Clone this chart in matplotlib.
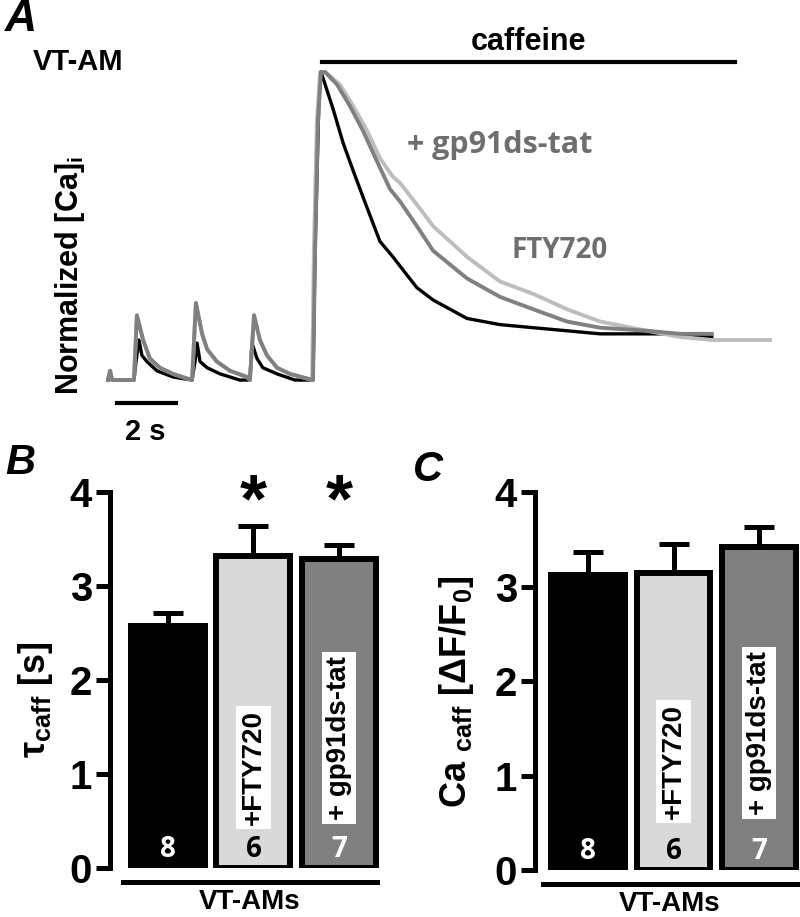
import numpy as np
import matplotlib
matplotlib.use('Agg')
import matplotlib.pyplot as plt

plt.rcParams['font.family'] = ['Liberation Sans', 'DejaVu Sans']
plt.rcParams['font.weight'] = 'bold'
plt.rcParams['mathtext.fontset'] = 'custom'
plt.rcParams['mathtext.rm'] = 'Liberation Sans:bold'
plt.rcParams['mathtext.it'] = 'Liberation Sans:bold'
plt.rcParams['mathtext.bf'] = 'Liberation Sans:bold'

# panel A: normalized Ca transients (time in s, normalized [Ca]i)
ctrl_t = [0, 0.07, 0.14, 0.88, 0.95, 1.05, 1.15, 1.32, 1.66, 2.20,
          2.85, 2.95, 3.02, 3.12, 3.36, 3.80, 4.47, 4.81, 4.88, 5.05,
          5.25, 5.73, 6.34, 6.95, 7.02, 7.15, 7.22, 7.36, 7.63, 7.97,
          8.31, 8.78, 9.22, 9.66, 9.90, 10.47, 11.02, 12.17, 13.29, 14.41,
          15.56, 16.68, 18.95, 20.47]
ctrl_v = [0, 0.03, 0, 0, 0.06, 0.13, 0.08, 0.06, 0.03, 0.01,
          0, 0.06, 0.12, 0.06, 0.04, 0.02, 0, 0, 0.12, 0.07,
          0.04, 0.02, 0, 0, 0.42, 0.91, 1.00, 0.96, 0.88, 0.77,
          0.68, 0.56, 0.45, 0.40, 0.37, 0.30, 0.26, 0.20, 0.18, 0.17,
          0.16, 0.15, 0.15, 0.14]

gp91_t = [0, 0.07, 0.14, 0.88, 0.98, 1.19, 1.42, 1.76, 2.20, 2.85,
          2.98, 3.19, 3.36, 3.69, 4.14, 4.71, 4.81, 4.95, 5.15, 5.39,
          5.73, 6.17, 6.95, 7.02, 7.12, 7.22, 7.36, 7.76, 8.20, 8.64,
          9.12, 9.56, 9.90, 10.47, 11.02, 12.17, 13.29, 14.41, 15.56, 16.68,
          18.27, 19.39, 20.47]
gp91_v = [0, 0.03, 0, 0, 0.21, 0.13, 0.07, 0.04, 0.02, 0,
          0.25, 0.15, 0.10, 0.06, 0.03, 0.01, 0, 0.21, 0.13, 0.08,
          0.04, 0.02, 0, 0.42, 0.84, 1.00, 1.00, 0.96, 0.89, 0.81,
          0.71, 0.62, 0.58, 0.50, 0.42, 0.33, 0.27, 0.23, 0.19, 0.17,
          0.16, 0.15, 0.15]

fty_t = [0, 0.07, 0.14, 0.88, 0.98, 1.19, 1.42, 1.76, 2.20, 2.85,
         2.98, 3.19, 3.36, 3.69, 4.14, 4.71, 4.81, 4.95, 5.15, 5.39,
         5.73, 6.17, 6.92, 6.98, 7.08, 7.19, 7.36, 7.86, 8.31, 8.78,
         9.22, 9.66, 9.90, 10.47, 11.02, 12.17, 13.29, 14.41, 15.56, 16.68,
         18.27, 19.39, 20.51, 21.66, 22.44]
fty_v = [0, 0.03, 0, 0, 0.21, 0.13, 0.07, 0.04, 0.02, 0,
         0.25, 0.15, 0.10, 0.06, 0.03, 0.01, 0, 0.21, 0.13, 0.08,
         0.04, 0.02, 0, 0.42, 0.84, 1.00, 1.00, 0.96, 0.89, 0.81,
         0.72, 0.66, 0.64, 0.57, 0.50, 0.40, 0.32, 0.28, 0.23, 0.19,
         0.16, 0.14, 0.13, 0.13, 0.13]

caffeine_on = (7.25, 21.25)
scale_bar = (0.3, 2.3)

# panels B and C
groups = ['VT-AM', '+FTY720', '+ gp91ds-tat']
n_cells = ['8', '6', '7']
tau_mean = [2.57, 3.32, 3.29]
tau_sem = [0.14, 0.32, 0.15]
tau_sig = [False, True, True]
amp_mean = [3.12, 3.14, 3.42]
amp_sem = [0.25, 0.31, 0.21]

bar_colors = ['black', '#d9d9d9', '#808080']
num_colors = ['white', 'black', 'white']

fig = plt.figure(figsize=(8, 9.17), dpi=100)

# ---- panel A ----
axA = fig.add_axes([0.125, 0.5093, 0.8625, 0.4689])
axA.set_xlim(-0.271, 23.12)
axA.set_ylim(-0.227, 1.169)
axA.axis('off')
axA.plot(ctrl_t, ctrl_v, color='black', lw=2.4, zorder=2)
axA.plot(fty_t, fty_v, color='#bdbdbd', lw=2.8, zorder=3)
axA.plot(gp91_t, gp91_v, color='#808080', lw=2.8, zorder=4)
axA.plot(caffeine_on, [1.032, 1.032], color='black', lw=3)
axA.text(np.mean(caffeine_on), 1.097, 'caffeine', ha='center', va='center', fontsize=22)
axA.plot(scale_bar, [-0.075, -0.075], color='black', lw=3)
axA.text(1.25, -0.169, '2 s', ha='center', va='center', fontsize=21)
axA.text(13.29, 0.763, '+ gp91ds-tat', ha='center', va='center', fontsize=22,
         color='#6e6e6e', family='Open Sans', fontweight='bold')
axA.text(15.32, 0.422, 'FTY720', ha='center', va='center', fontsize=20,
         color='#6e6e6e', family='Open Sans', fontweight='bold')
fig.text(0.041, 0.932, 'VT-AM', ha='left', va='center', fontsize=21)
fig.text(0.006, 0.979, 'A', ha='left', va='center', fontsize=32, style='italic')
fig.text(0.0875, 0.700, 'Normalized [Ca]$_i$', rotation=90, ha='center', va='center', fontsize=22)


def bar_panel(ax, means, sems, xlim, label_y, sig=None):
    x = np.arange(len(means))
    ax.errorbar(x, means, yerr=[np.zeros(len(sems)), sems], fmt='none', ecolor='black',
                elinewidth=3.6, capsize=11, capthick=3.6, zorder=1)
    ax.bar(x, means, width=0.865, color=bar_colors, edgecolor='black', linewidth=4.3, zorder=2)
    ax.set_xlim(*xlim)
    ax.set_ylim(0, 4)
    ax.set_yticks([0, 1, 2, 3, 4])
    ax.set_xticks([])
    for s in ['top', 'right', 'bottom']:
        ax.spines[s].set_visible(False)
    ax.spines['left'].set_linewidth(3.6)
    ax.tick_params(axis='y', length=10, width=3.6, labelsize=29, pad=3)
    for i in x:
        ax.text(i, 0.2, n_cells[i], ha='center', va='center', fontsize=20,
                color=num_colors[i], family='Open Sans', fontweight='bold', zorder=3)
    for i, yl in zip([1, 2], label_y):
        ax.text(i, yl, groups[i], rotation=90, ha='center', va='center', fontsize=20, zorder=3,
                bbox=dict(facecolor='white', edgecolor='none', pad=3))
    if sig is not None:
        for i in x:
            if sig[i]:
                ax.text(i, 3.88, '*', ha='center', va='center', fontsize=50, zorder=3)
    ax.plot([-0.53, 2.44], [-0.15, -0.15], color='black', lw=3.6, clip_on=False)
    ax.text(0.96, -0.435, 'VT-AMs', ha='center', va='baseline', fontsize=20)


axB = fig.add_axes([0.1375, 0.0534, 0.35, 0.410])
bar_panel(axB, tau_mean, tau_sem, (-0.678, 2.597), [1.07, 1.38], tau_sig)
fig.text(0.044, 0.2366, 'τ$_{caff}$ [s]', rotation=90, ha='center', va='center', fontsize=26)
fig.text(0.006, 0.495, 'B', ha='left', va='center', fontsize=30, style='italic')

axC = fig.add_axes([0.66875, 0.0513, 0.3375, 0.412])
bar_panel(axC, amp_mean, amp_sem, (-0.62, 2.538), [1.15, 1.45])
fig.text(0.571, 0.2454, 'Ca $_{caff}$ [ΔF/F$_0$]', rotation=90, ha='center', va='center', fontsize=26)
fig.text(0.516, 0.487, 'C', ha='left', va='center', fontsize=30, style='italic')

fig.savefig('out.png', dpi=100)
